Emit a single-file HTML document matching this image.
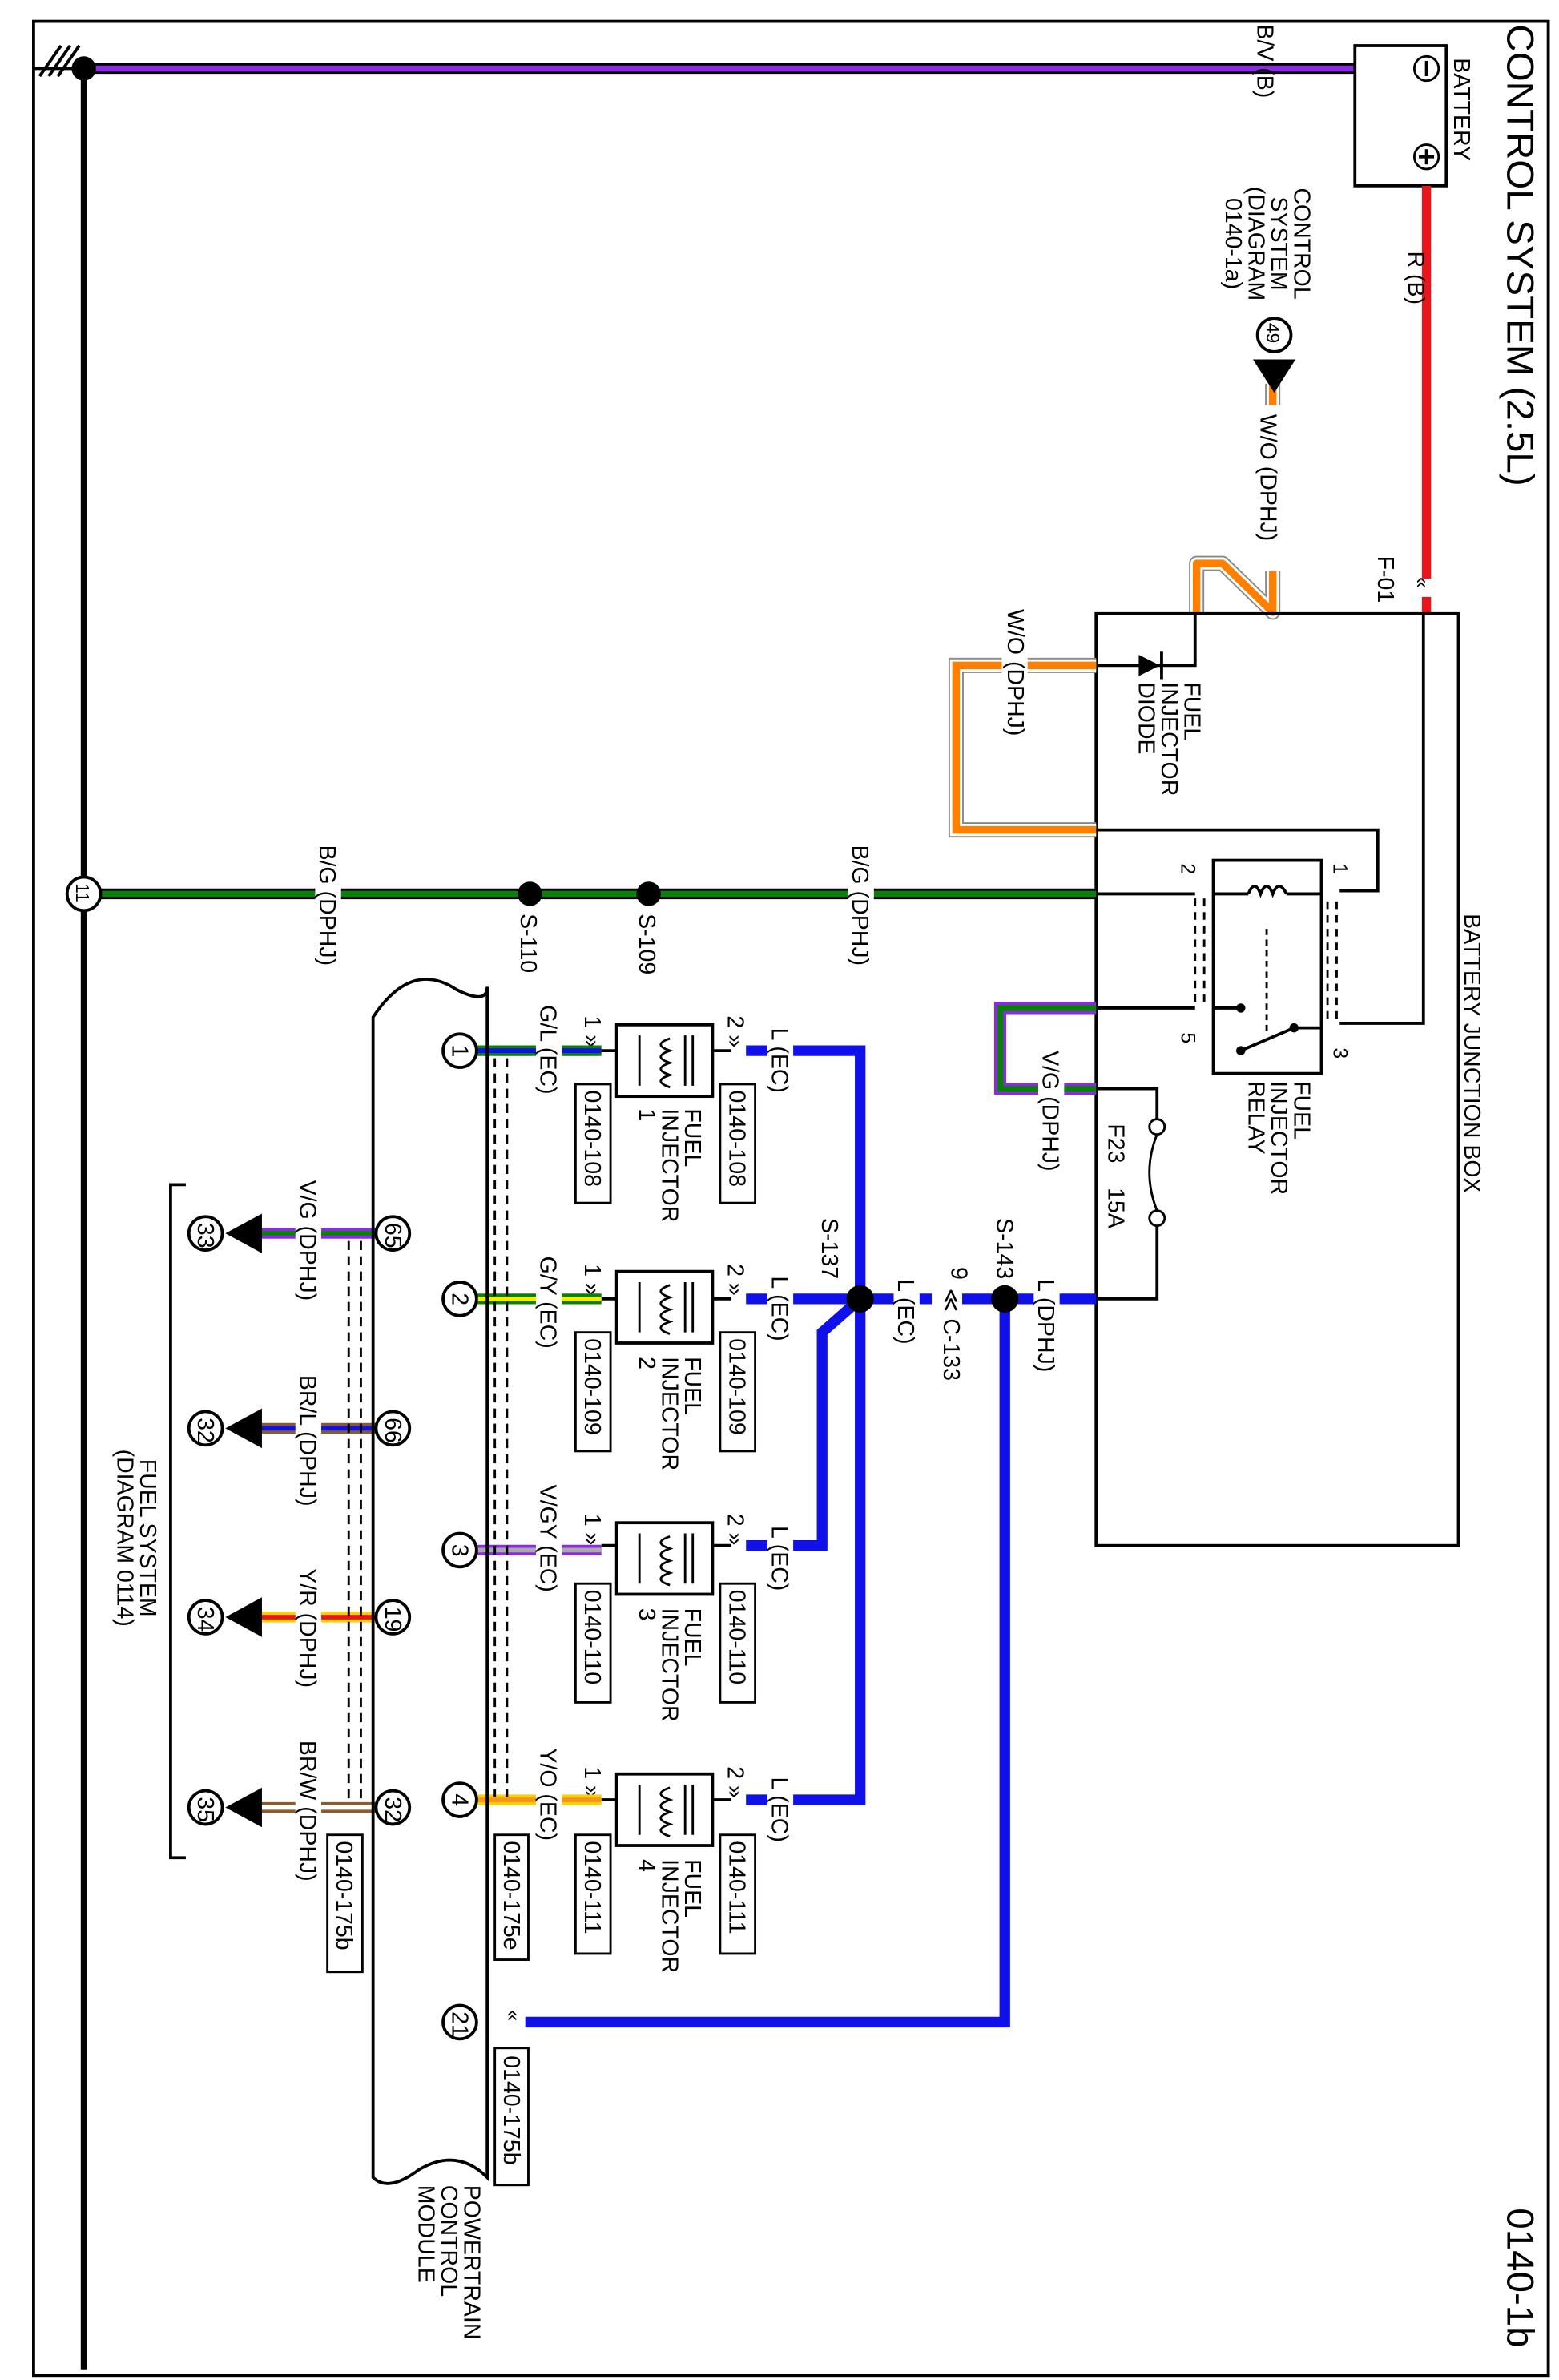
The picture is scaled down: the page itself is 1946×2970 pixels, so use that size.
<!DOCTYPE html>
<html><head><meta charset="utf-8"><style>html,body{margin:0;padding:0;background:#fff}svg{display:block}
text{font-family:"Liberation Sans",sans-serif;font-size:15px;fill:#000}</style></head><body>
<svg width="1946" height="2970" viewBox="0 0 1024 1563" xmlns="http://www.w3.org/2000/svg">
<rect x="0" y="0" width="1024" height="1563" fill="#fff"/>
<rect x="22" y="14" width="995" height="1546" fill="none" stroke="#000" stroke-width="2"/>
<text transform="translate(990,16) rotate(90)" style="font-size:25px">CONTROL SYSTEM (2.5L)</text>
<text transform="translate(990,1450) rotate(90)" style="font-size:25px">0140-1b</text>
<line x1="55" y1="45" x2="55" y2="1556" stroke="#000" stroke-width="4"/>
<g stroke="#000" stroke-width="2"><line x1="22" y1="45" x2="55" y2="45"/><line x1="26" y1="50" x2="40" y2="30"/><line x1="32" y1="50" x2="46" y2="30"/><line x1="38" y1="50" x2="52" y2="30"/></g>
<line x1="55" y1="45" x2="890" y2="45" stroke="#000" stroke-width="7"/>
<line x1="55" y1="45" x2="890" y2="45" stroke="#8a2be2" stroke-width="4"/>
<circle cx="55" cy="45" r="8" fill="#000"/>
<text transform="translate(826,16) rotate(90)">B/V (B)</text>
<rect x="890" y="30" width="60" height="92" fill="#fff" stroke="#000" stroke-width="2"/>
<circle cx="937" cy="45" r="8" fill="none" stroke="#000" stroke-width="1.5"/><line x1="937" y1="40" x2="937" y2="50" stroke="#000" stroke-width="2"/>
<circle cx="937" cy="103" r="8" fill="none" stroke="#000" stroke-width="1.5"/><line x1="937" y1="98" x2="937" y2="108" stroke="#000" stroke-width="2"/><line x1="932" y1="103" x2="942" y2="103" stroke="#000" stroke-width="2"/>
<text transform="translate(955,38) rotate(90)">BATTERY</text>
<line x1="937" y1="122" x2="937" y2="380" stroke="#e8161a" stroke-width="6"/>
<line x1="937" y1="392" x2="937" y2="403" stroke="#e8161a" stroke-width="6"/>
<text transform="translate(925,165) rotate(90)">R (B)</text>
<text transform="translate(905,365) rotate(90)">F-01</text>
<text transform="translate(930,379) rotate(90)" style="font-size:13px">«</text>
<text transform="translate(850,118) rotate(90)" text-anchor="middle"><tspan x="42" y="0">CONTROL</tspan><tspan x="42" dy="1em">SYSTEM</tspan><tspan x="42" dy="1em">(DIAGRAM</tspan><tspan x="42" dy="1em">0140-1a)</tspan></text>
<g fill="none" stroke-linejoin="round">
<path d="M836,252 L836,266 M836,375 L836,402 L803,370 L786,370 L786,403" stroke="#888" stroke-width="10"/>
<path d="M836,252 L836,266 M836,375 L836,402 L803,370 L786,370 L786,403" stroke="#fff" stroke-width="8"/>
<path d="M836,252 L836,266 M836,375 L836,402 L803,370 L786,370 L786,403" stroke="#ff8000" stroke-width="5"/>
</g>
<circle cx="837" cy="220" r="11" fill="#fff" stroke="#000" stroke-width="2"/>
<text transform="translate(832,212) rotate(90)" style="font-size:12px">49</text>
<polygon points="823,236 851,236 837,258" fill="#000"/>
<text transform="translate(828,272) rotate(90)">W/O (DPHJ)</text>
<rect x="720" y="403" width="238" height="612" fill="none" stroke="#000" stroke-width="2"/>
<text transform="translate(962,600) rotate(90)">BATTERY JUNCTION BOX</text>
<polyline points="720,437 785,437 785,403" fill="none" stroke="#000" stroke-width="2"/>
<polygon points="748,430 748,444 762,437" fill="#000"/><line x1="763" y1="428" x2="763" y2="446" stroke="#000" stroke-width="2"/>
<text transform="translate(778,448) rotate(90)"><tspan x="0" y="0">FUEL</tspan><tspan x="0" dy="1em">INJECTOR</tspan><tspan x="0" dy="1em">DIODE</tspan></text>
<polyline points="720,437 628,437 628,545 720,545" fill="none" stroke="#888" stroke-width="10"/>
<polyline points="720,437 628,437 628,545 720,545" fill="none" stroke="#fff" stroke-width="8"/>
<polyline points="720,437 628,437 628,545 720,545" fill="none" stroke="#ff8000" stroke-width="5"/>
<rect x="658" y="430" width="17" height="14" fill="#fff"/>
<text transform="translate(662,400) rotate(90)">W/O (DPHJ)</text>
<polyline points="720,545 905,545 905,585 880,585" fill="none" stroke="#000" stroke-width="2"/>
<rect x="797" y="565" width="71" height="140" fill="#fff" stroke="#000" stroke-width="2"/>
<polyline points="935,403 935,672 880,672" fill="none" stroke="#000" stroke-width="2"/>
<line x1="720" y1="587" x2="785" y2="587" stroke="#000" stroke-width="2"/>
<line x1="720" y1="662" x2="785" y2="662" stroke="#000" stroke-width="2"/>
<g stroke="#000" stroke-width="1.5" stroke-dasharray="5,4"><line x1="785" y1="590" x2="785" y2="660"/><line x1="791" y1="590" x2="791" y2="660"/><line x1="872" y1="592" x2="872" y2="670"/><line x1="878" y1="592" x2="878" y2="670"/></g>
<line x1="797" y1="587" x2="820" y2="587" stroke="#000" stroke-width="2"/><line x1="845" y1="587" x2="868" y2="587" stroke="#000" stroke-width="2"/>
<path d="M820,587 q4,-10 8,0 q4,-10 8,0 q4,-10 9,0" fill="none" stroke="#000" stroke-width="2"/>
<line x1="797" y1="662" x2="815" y2="662" stroke="#000" stroke-width="2"/><circle cx="815" cy="662" r="3" fill="#000"/>
<line x1="815" y1="690" x2="850" y2="675" stroke="#000" stroke-width="2"/><circle cx="850" cy="675" r="3" fill="#000"/><circle cx="815" cy="690" r="3" fill="#000"/>
<line x1="850" y1="675" x2="868" y2="675" stroke="#000" stroke-width="2"/>
<line x1="832" y1="610" x2="832" y2="680" stroke="#000" stroke-width="1.5" stroke-dasharray="4,3"/>
<text transform="translate(876,567) rotate(90)" style="font-size:13px">1</text>
<text transform="translate(776,567) rotate(90)" style="font-size:13px">2</text>
<text transform="translate(776,678) rotate(90)" style="font-size:13px">5</text>
<text transform="translate(876,688) rotate(90)" style="font-size:13px">3</text>
<text transform="translate(850,710) rotate(90)"><tspan x="0" y="0">FUEL</tspan><tspan x="0" dy="1em">INJECTOR</tspan><tspan x="0" dy="1em">RELAY</tspan></text>
<line x1="55" y1="587" x2="720" y2="587" stroke="#000" stroke-width="7"/>
<line x1="55" y1="587" x2="720" y2="587" stroke="#0a800a" stroke-width="4"/>
<circle cx="426" cy="587" r="8" fill="#000"/><circle cx="348" cy="587" r="8" fill="#000"/>
<text transform="translate(420,600) rotate(90)">S-109</text>
<text transform="translate(342,600) rotate(90)">S-110</text>
<rect x="557" y="580" width="17" height="14" fill="#fff"/>
<text transform="translate(560,555) rotate(90)">B/G (DPHJ)</text>
<rect x="207" y="580" width="17" height="14" fill="#fff"/>
<text transform="translate(210,555) rotate(90)">B/G (DPHJ)</text>
<circle cx="55" cy="587" r="11" fill="#fff" stroke="#000" stroke-width="2"/>
<text transform="translate(50,580) rotate(90)" style="font-size:12px">11</text>
<polyline points="720,662 657,662 657,715 720,715" fill="none" stroke="#8a2be2" stroke-width="8"/>
<polyline points="720,662 657,662 657,715 720,715" fill="none" stroke="#0a800a" stroke-width="4"/>
<polyline points="720,715 760,715 760,735" fill="none" stroke="#000" stroke-width="2"/>
<circle cx="760" cy="740" r="5" fill="#fff" stroke="#000" stroke-width="1.5"/><circle cx="760" cy="800" r="5" fill="#fff" stroke="#000" stroke-width="1.5"/>
<path d="M760,745 q-10,25 0,50" fill="none" stroke="#000" stroke-width="1.5"/>
<polyline points="760,805 760,853 720,853" fill="none" stroke="#000" stroke-width="2"/>
<text transform="translate(728,738) rotate(90)">F23</text>
<text transform="translate(728,780) rotate(90)">15A</text>
<rect x="682" y="708" width="17" height="14" fill="#fff"/>
<text transform="translate(685,690) rotate(90)">V/G (DPHJ)</text>
<g fill="none" stroke="#1010e8" stroke-width="7">
<line x1="720" y1="853" x2="632" y2="853"/><line x1="612" y1="853" x2="490" y2="853"/>
<polyline points="490,690 565,690 565,1182 490,1182"/>
<polyline points="490,1015 540,1015 540,875 565,853"/>
<polyline points="660,853 660,1328 345,1328"/>
</g>
<circle cx="660" cy="853" r="9" fill="#000"/><circle cx="565" cy="853" r="9" fill="#000"/>
<text transform="translate(655,800) rotate(90)">S-143</text>
<text transform="translate(540,800) rotate(90)">S-137</text>
<rect x="679" y="846" width="17" height="14" fill="#fff"/>
<text transform="translate(682,840) rotate(90)">L (DPHJ)</text>
<text transform="translate(625,832) rotate(90)">9</text>
<text transform="translate(620,846) rotate(90)">≪ C-133</text>
<rect x="587" y="846" width="17" height="14" fill="#fff"/>
<text transform="translate(590,840) rotate(90)">L (EC)</text>
<g stroke="#000" stroke-width="2" fill="#fff">
<rect x="405" y="673" width="63" height="47"/><rect x="405" y="835" width="63" height="47"/><rect x="405" y="1000" width="63" height="47"/><rect x="405" y="1165" width="63" height="47"/>
</g>
<g fill="none" stroke="#000" stroke-width="1.5">
<path d="M455,680 v33 M450,680 v33 M420,680 v33 M440,682 q-12,4 0,8 q-12,4 0,8 q-12,4 0,8 q-12,4 0,8"/>
<path d="M455,842 v33 M450,842 v33 M420,842 v33 M440,844 q-12,4 0,8 q-12,4 0,8 q-12,4 0,8 q-12,4 0,8"/>
<path d="M455,1007 v33 M450,1007 v33 M420,1007 v33 M440,1009 q-12,4 0,8 q-12,4 0,8 q-12,4 0,8 q-12,4 0,8"/>
<path d="M455,1172 v33 M450,1172 v33 M420,1172 v33 M440,1174 q-12,4 0,8 q-12,4 0,8 q-12,4 0,8 q-12,4 0,8"/>
</g>
<g stroke="#000" stroke-width="2">
<line x1="468" y1="690" x2="480" y2="690"/><line x1="395" y1="690" x2="405" y2="690"/>
<line x1="468" y1="853" x2="480" y2="853"/><line x1="395" y1="853" x2="405" y2="853"/>
<line x1="468" y1="1015" x2="480" y2="1015"/><line x1="395" y1="1015" x2="405" y2="1015"/>
<line x1="468" y1="1182" x2="480" y2="1182"/><line x1="395" y1="1182" x2="405" y2="1182"/>
</g>
<g style="font-size:13px">
<text transform="translate(478,667) rotate(90)">2 »</text><text transform="translate(384,667) rotate(90)">1 »</text>
<text transform="translate(478,830) rotate(90)">2 »</text><text transform="translate(384,830) rotate(90)">1 »</text>
<text transform="translate(478,994) rotate(90)">2 »</text><text transform="translate(384,994) rotate(90)">1 »</text>
<text transform="translate(478,1160) rotate(90)">2 »</text><text transform="translate(384,1160) rotate(90)">1 »</text>
</g>
<g fill="#fff" stroke="#000" stroke-width="1.5">
<rect x="473" y="712" width="23" height="78"/><rect x="378" y="712" width="23" height="78"/>
<rect x="473" y="875" width="23" height="78"/><rect x="378" y="875" width="23" height="78"/>
<rect x="473" y="1040" width="23" height="78"/><rect x="378" y="1040" width="23" height="78"/>
<rect x="473" y="1205" width="23" height="78"/><rect x="378" y="1205" width="23" height="78"/>
<rect x="325" y="1205" width="22" height="82"/><rect x="325" y="1345" width="22" height="90"/><rect x="215" y="1205" width="23" height="90"/>
</g>
<g style="font-size:14px">
<text transform="translate(479,716) rotate(90)">0140-108</text><text transform="translate(384,716) rotate(90)">0140-108</text>
<text transform="translate(479,879) rotate(90)">0140-109</text><text transform="translate(384,879) rotate(90)">0140-109</text>
<text transform="translate(479,1044) rotate(90)">0140-110</text><text transform="translate(384,1044) rotate(90)">0140-110</text>
<text transform="translate(479,1209) rotate(90)">0140-111</text><text transform="translate(384,1209) rotate(90)">0140-111</text>
<text transform="translate(331,1209) rotate(90)">0140-175e</text><text transform="translate(331,1350) rotate(90)">0140-175b</text><text transform="translate(221,1209) rotate(90)">0140-175b</text>
</g>
<text transform="translate(450,728) rotate(90)"><tspan x="0" y="0">FUEL</tspan><tspan x="0" dy="1em">INJECTOR</tspan><tspan x="0" dy="1em">1</tspan></text>
<text transform="translate(450,891) rotate(90)"><tspan x="0" y="0">FUEL</tspan><tspan x="0" dy="1em">INJECTOR</tspan><tspan x="0" dy="1em">2</tspan></text>
<text transform="translate(450,1056) rotate(90)"><tspan x="0" y="0">FUEL</tspan><tspan x="0" dy="1em">INJECTOR</tspan><tspan x="0" dy="1em">3</tspan></text>
<text transform="translate(450,1221) rotate(90)"><tspan x="0" y="0">FUEL</tspan><tspan x="0" dy="1em">INJECTOR</tspan><tspan x="0" dy="1em">4</tspan></text>
<g fill="#fff"><rect x="504" y="683" width="17" height="14"/><rect x="504" y="846" width="17" height="14"/><rect x="504" y="1008" width="17" height="14"/><rect x="504" y="1175" width="17" height="14"/></g>
<text transform="translate(507,675) rotate(90)">L (EC)</text>
<text transform="translate(507,838) rotate(90)">L (EC)</text>
<text transform="translate(507,1002) rotate(90)">L (EC)</text>
<text transform="translate(507,1167) rotate(90)">L (EC)</text>
<g stroke-width="7">
<line x1="313" y1="690" x2="395" y2="690" stroke="#0a800a"/><line x1="313" y1="690" x2="395" y2="690" stroke="#1010e8" stroke-width="3"/>
<line x1="313" y1="853" x2="395" y2="853" stroke="#0a800a"/><line x1="313" y1="853" x2="395" y2="853" stroke="#f0f000" stroke-width="3"/>
<line x1="313" y1="1018" x2="395" y2="1018" stroke="#8a2be2"/><line x1="313" y1="1018" x2="395" y2="1018" stroke="#aaa" stroke-width="3"/>
<line x1="313" y1="1182" x2="395" y2="1182" stroke="#ffd000"/><line x1="313" y1="1182" x2="395" y2="1182" stroke="#f7941d" stroke-width="3"/>
<line x1="160" y1="810" x2="247" y2="810" stroke="#8a2be2"/><line x1="160" y1="810" x2="247" y2="810" stroke="#0a800a" stroke-width="3"/>
<line x1="160" y1="938" x2="247" y2="938" stroke="#8b5a2b"/><line x1="160" y1="938" x2="247" y2="938" stroke="#1010e8" stroke-width="3"/>
<line x1="160" y1="1062" x2="247" y2="1062" stroke="#ffd000"/><line x1="160" y1="1062" x2="247" y2="1062" stroke="#e8161a" stroke-width="3"/>
<line x1="160" y1="1187" x2="247" y2="1187" stroke="#8b5a2b"/><line x1="160" y1="1187" x2="247" y2="1187" stroke="#fff" stroke-width="3"/>
</g>
<g fill="#fff"><rect x="352" y="683" width="17" height="14"/><rect x="352" y="846" width="17" height="14"/><rect x="352" y="1011" width="17" height="14"/><rect x="352" y="1175" width="17" height="14"/>
<rect x="194" y="803" width="17" height="14"/><rect x="194" y="931" width="17" height="14"/><rect x="194" y="1055" width="17" height="14"/><rect x="194" y="1180" width="17" height="14"/></g>
<text transform="translate(355,660) rotate(90)">G/L (EC)</text>
<text transform="translate(355,825) rotate(90)">G/Y (EC)</text>
<text transform="translate(355,975) rotate(90)">V/GY (EC)</text>
<text transform="translate(355,1148) rotate(90)">Y/O (EC)</text>
<path d="M245,668 Q270,630 300,650 Q320,660 320,648 L320,1430 Q300,1410 275,1425 Q255,1440 245,1430 Z" fill="none" stroke="#000" stroke-width="2"/>
<g stroke="#000" stroke-width="1.5" stroke-dasharray="6,4"><line x1="325" y1="695" x2="325" y2="1180"/><line x1="333" y1="695" x2="333" y2="1180"/><line x1="229" y1="815" x2="229" y2="1185"/><line x1="237" y1="815" x2="237" y2="1185"/></g>
<g fill="#fff" stroke="#000" stroke-width="2">
<circle cx="302" cy="690" r="11"/><circle cx="302" cy="853" r="11"/><circle cx="302" cy="1018" r="11"/><circle cx="302" cy="1182" r="11"/><circle cx="302" cy="1328" r="11"/>
<circle cx="258" cy="810" r="11"/><circle cx="258" cy="938" r="11"/><circle cx="258" cy="1062" r="11"/><circle cx="258" cy="1187" r="11"/>
<circle cx="135" cy="810" r="11"/><circle cx="135" cy="938" r="11"/><circle cx="135" cy="1062" r="11"/><circle cx="135" cy="1187" r="11"/>
</g>
<g style="font-size:12px">
<text transform="translate(297,686) rotate(90)">1</text><text transform="translate(297,849) rotate(90)">2</text><text transform="translate(297,1014) rotate(90)">3</text><text transform="translate(297,1178) rotate(90)">4</text><text transform="translate(297,1321) rotate(90)">21</text>
<text transform="translate(253,803) rotate(90)">65</text><text transform="translate(253,931) rotate(90)">66</text><text transform="translate(253,1055) rotate(90)">19</text><text transform="translate(253,1180) rotate(90)">32</text>
<text transform="translate(130,803) rotate(90)">33</text><text transform="translate(130,931) rotate(90)">32</text><text transform="translate(130,1055) rotate(90)">34</text><text transform="translate(130,1180) rotate(90)">35</text>
</g>
<text transform="translate(333,1320) rotate(90)" style="font-size:13px">«</text>
<g fill="#000"><polygon points="148,810 172,797 172,823"/><polygon points="148,938 172,925 172,951"/><polygon points="148,1062 172,1049 172,1075"/><polygon points="148,1187 172,1174 172,1200"/></g>
<text transform="translate(197,775) rotate(90)">V/G (DPHJ)</text>
<text transform="translate(197,903) rotate(90)">BR/L (DPHJ)</text>
<text transform="translate(197,1030) rotate(90)">Y/R (DPHJ)</text>
<text transform="translate(197,1143) rotate(90)">BR/W (DPHJ)</text>
<polyline points="122,778 112,778 112,1220 122,1220" fill="none" stroke="#000" stroke-width="2"/>
<text transform="translate(92,948) rotate(90)" text-anchor="middle"><tspan x="62" y="0">FUEL SYSTEM</tspan><tspan x="62" dy="1em">(DIAGRAM 0114)</tspan></text>
<text transform="translate(305,1435) rotate(90)"><tspan x="0" y="0">POWERTRAIN</tspan><tspan x="0" dy="1em">CONTROL</tspan><tspan x="0" dy="1em">MODULE</tspan></text>
</svg>
</body></html>
